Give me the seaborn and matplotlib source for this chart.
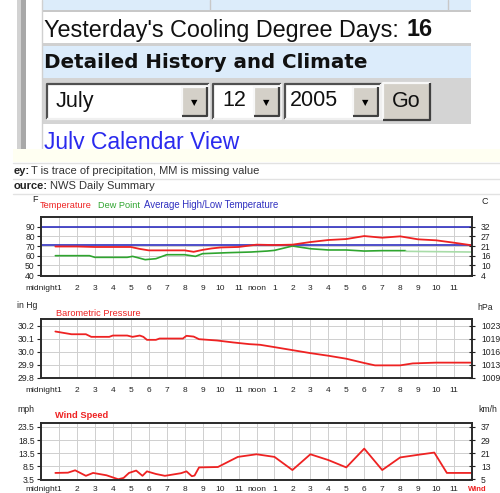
import matplotlib.pyplot as plt
from matplotlib.patches import Rectangle
import seaborn as sns

hour_ticks = list(range(24))
hour_labels = ['midnight'] + [str(h) for h in range(1, 12)] + ['noon'] + [str(h) for h in range(1, 12)]

# temperature chart (F)
temp_hours = [0.8, 2, 3, 4, 5, 5.5, 6, 7, 8, 8.5, 9, 9.5, 10, 11, 12, 13, 14,
              15, 16, 17, 18, 19, 20, 21, 22, 23, 24]
temp_f = [69.5, 69.5, 69, 69, 69, 67, 65.5, 65.5, 65.5, 64, 66, 67.5, 68.5, 69, 71.4, 71, 71.4,
          74.1, 76.2, 77.2, 80.3, 78.6, 80, 76.9, 75.9, 73.4, 70.7]
dew_hours = [0.8, 2.7, 3, 4.8, 5.1, 5.4, 5.8, 6.4, 7, 8, 8.6, 9, 10.4, 11.7,
             12.6, 13, 14, 15, 16, 17, 18, 19, 20, 20.3]
dew_f = [60, 60, 58.3, 58.3, 59.3, 57.9, 55.9, 56.9, 61, 61, 59.3, 62.1, 63.1, 63.8,
         64.8, 65.5, 70, 67.2, 65.9, 65.9, 64.8, 65.2, 65.2, 65.2]
dew_tail_hours = [20.3, 24]
dew_tail_f = [64.5, 63.8]
normal_hours = [0, 24]
normal_high_f = [90, 90]
normal_low_f = [70.7, 70.7]
temp_ticks = [40, 50, 60, 70, 80, 90]
temp_labels = ['40', '50', '60', '70', '80', '90']
temp_c_labels = ['4', '10', '16', '21', '27', '32']

# barometric pressure (in Hg)
pres_hours = [0.8, 1.7, 2.5, 2.8, 3.8, 4.0, 4.8, 5.1, 5.5, 5.7, 5.9, 6.4, 6.6, 7.9, 8.1, 8.5,
              8.8, 9.8, 10.7, 11.6, 12.2, 13, 14, 15, 16, 17, 18, 18.6, 20, 20.7, 22, 24]
pres_inhg = [30.157, 30.136, 30.136, 30.116, 30.116, 30.126, 30.126, 30.116, 30.126, 30.116,
             30.093, 30.093, 30.103, 30.103, 30.124, 30.118, 30.098, 30.088, 30.073, 30.06,
             30.055, 30.037, 30.014, 29.991, 29.971, 29.948, 29.915, 29.897, 29.897, 29.912,
             29.918, 29.918]
pres_ticks = [29.8, 29.9, 30.0, 30.1, 30.2]
pres_labels = ['29.8', '29.9', '30.0', '30.1', '30.2']
pres_hpa_labels = ['1009', '1013', '1016', '1019', '1023']

# wind speed (mph)
wind_hours = [0.8, 1.5, 1.9, 2.5, 2.9, 3.65, 4.3, 4.6, 4.9, 5.3, 5.65, 5.9, 6.4, 6.9, 7.8,
              8.1, 8.4, 8.55, 8.8, 9.85, 10.96, 12, 13, 14, 15, 16, 17, 18, 19, 20, 21,
              21.9, 22.6, 24]
wind_mph = [6.0, 6.1, 7.0, 4.9, 6.0, 5.1, 3.6, 4.1, 6.0, 6.9, 4.9, 6.6, 5.6, 4.9, 5.9,
            6.6, 4.75, 5.0, 8.1, 8.25, 12.1, 13.1, 12.1, 7.1, 13.1, 10.9, 8.1, 15.25, 7.1,
            11.9, 12.9, 13.75, 6.0, 6.0]
wind_ticks = [3.5, 8.5, 13.5, 18.5, 23.5]
wind_labels = ['3.5', '8.5', '13.5', '18.5', '23.5']
wind_kmh_labels = ['5', '13', '21', '29', '37']

W, H = 500, 493
RED = '#ee2222'
GREEN = '#2fa52f'
BLUE = '#3030c0'

sns.set_style('white')
plt.rcParams['font.family'] = ['Liberation Sans', 'DejaVu Sans']

fig = plt.figure(figsize=(W / 100, H / 100), dpi=100)
fig.patch.set_facecolor('white')

# pixel-space background layer for the page around the charts
bg = fig.add_axes([0, 0, 1, 1])
bg.set_xlim(0, W)
bg.set_ylim(H, 0)
bg.axis('off')


def rect(x0, y0, x1, y1, color, z=1):
    bg.add_patch(Rectangle((x0, y0), x1 - x0, y1 - y0, facecolor=color,
                           edgecolor='none', linewidth=0, zorder=z))


def bevel(x0, y0, x1, y1, face, sunken=True):
    rect(x0, y0, x1, y1, face, z=2)
    dark, light = ('#505050', '#f0f0f0') if sunken else ('#f8f8f8', '#404040')
    bg.plot([x0, x0, x1], [y1, y0, y0], color=dark, lw=1.6, zorder=3, solid_capstyle='butt')
    bg.plot([x0, x1, x1], [y1, y1, y0], color=light, lw=1.6, zorder=3, solid_capstyle='butt')


def drop_button(x0, y0, x1, y1):
    bevel(x0, y0, x1, y1, '#d4d0c8', sunken=False)
    bg.text((x0 + x1) / 2, (y0 + y1) / 2 + 1, '\u25bc', fontsize=6, ha='center', va='center',
            color='black', zorder=4, family=['DejaVu Sans'])


# left gray bar
rect(16.5, 0, 20.5, 152, '#d2d2d2')
rect(20.5, 0, 25.5, 152, '#a8a8a8')

# page table
rect(42, 0, 471, 10, '#dcecfa')
bg.plot([210, 210], [0, 10], color='#c8c8c8', lw=1, zorder=2)
bg.plot([448, 448], [0, 10], color='#c8c8c8', lw=1, zorder=2)
rect(42, 10, 471, 12, '#c8c8c8')
rect(42, 43, 471, 45.5, '#d0d0d0')
rect(42, 45.5, 471, 78, '#dcecfb')
rect(42, 78, 471, 124, '#d4d4d4')
bg.plot([42, 42], [0, 152], color='#d0d0d0', lw=1, zorder=2)

cdd = bg.text(44, 30, "Yesterday's Cooling Degree Days: ", fontsize=16.8, va='center',
              color='#111111', zorder=3)
fig.canvas.draw()
ext = cdd.get_window_extent()
x_end = bg.transData.inverted().transform((ext.x1, ext.y0))[0]
bg.text(x_end + 1, 30, '16', fontsize=16.8, va='center', fontweight='bold', color='#111111', zorder=3)
bg.text(44, 62, 'Detailed History and Climate', fontsize=14.3, fontweight='bold', va='center',
        color='#111111', zorder=3, family=['DejaVu Sans'])

# month / day / year selectors and Go button
bevel(46.5, 83.5, 209, 118.5, 'white')
drop_button(182, 87, 206.5, 115.5)
bg.text(56, 101, 'July', fontsize=15.5, va='center', color='#111111', zorder=4)
bevel(213, 83.5, 281, 118.5, 'white')
drop_button(254, 87, 278.5, 115.5)
bg.text(222, 101, '12', fontsize=15.5, va='center', color='#111111', zorder=4)
bevel(285, 83.5, 380.5, 118.5, 'white')
drop_button(353, 87, 378, 115.5)
bg.text(290, 101, '2005', fontsize=15.5, va='center', color='#111111', zorder=4)
bevel(383, 83, 430, 120, '#d4d0c8', sunken=False)
bg.text(406.5, 101.5, 'Go', fontsize=15.5, ha='center', va='center', color='#111111', zorder=4)

bg.text(44, 142, 'July Calendar View', fontsize=16.5, va='center', color='#2a2aee', zorder=3)

# cream strip and the notes rows under the page table
rect(13, 149, W, 162, '#fffff2', z=5)
for yy in (162.5, 178.5, 193.5):
    bg.plot([13, W], [yy, yy], color='#e2e2e2', lw=1, zorder=5)
bg.text(14, 170.5, 'ey:', fontsize=8, fontweight='bold', va='center', color='#222222', zorder=6)
bg.text(31, 170.5, 'T is trace of precipitation, MM is missing value', fontsize=8, va='center',
        color='#333333', zorder=6)
bg.text(14, 186, 'ource:', fontsize=8, fontweight='bold', va='center', color='#222222', zorder=6)
bg.text(49.5, 186, 'NWS Daily Summary', fontsize=8, va='center', color='#333333', zorder=6)


def px_box(left, top, right, bottom):
    return [left / W, 1 - bottom / H, (right - left) / W, (bottom - top) / H]


def style_chart(ax, ylim, yticks, ylabels, right_labels, xpad=3):
    ax.set_facecolor('white')
    ax.set_xlim(0, 24)
    ax.set_ylim(*ylim)
    ax.set_xticks(hour_ticks)
    ax.set_xticklabels(hour_labels)
    ax.set_yticks(yticks)
    ax.set_yticklabels(ylabels)
    ax.set_xlabel('')
    ax.set_ylabel('')
    ax.grid(True, color='#cfcfcf', lw=0.7)
    ax.set_axisbelow(True)
    for s in ax.spines.values():
        s.set_visible(True)
        s.set_color('#2a2a2a')
        s.set_linewidth(1.4)
    ax.tick_params(axis='x', bottom=False, labelsize=6, pad=xpad, colors='#222222')
    ax.tick_params(axis='y', left=True, length=3, width=0.8, labelsize=6.2, pad=1.5, colors='#222222')
    tw = ax.twinx()
    tw.set_ylim(*ylim)
    tw.set_yticks(yticks)
    tw.set_yticklabels(right_labels)
    tw.grid(False)
    for s in tw.spines.values():
        s.set_visible(False)
    tw.tick_params(axis='y', right=True, direction='inout', length=5, width=0.8,
                   labelsize=6.2, pad=4, colors='#222222')


# chart 1: temperature / dew point / normals
ax1 = fig.add_axes(px_box(41, 217, 472, 276))
sns.lineplot(x=normal_hours, y=normal_high_f, ax=ax1, color=BLUE, linewidth=1.2)
sns.lineplot(x=normal_hours, y=normal_low_f, ax=ax1, color=BLUE, linewidth=1.2)
sns.lineplot(x=dew_hours, y=dew_f, ax=ax1, color=GREEN, linewidth=1.2)
sns.lineplot(x=dew_tail_hours, y=dew_tail_f, ax=ax1, color='#a8dca8', linewidth=1.2)
sns.lineplot(x=temp_hours, y=temp_f, ax=ax1, color=RED, linewidth=1.3)
style_chart(ax1, (39, 100), temp_ticks, temp_labels, temp_c_labels)

bg.text(32, 199, 'F', fontsize=6.5, va='center', color='#222222', zorder=6)
bg.text(481, 202, 'C', fontsize=6.5, va='center', color='#222222', zorder=6)
bg.text(40, 205, 'Temperature', fontsize=6.6, va='center', color=RED, zorder=6)
bg.text(98, 205, 'Dew Point', fontsize=6.6, va='center', color=GREEN, zorder=6)
bg.text(144, 205, 'Average High/Low Temperature', fontsize=6.9, va='center', color=BLUE, zorder=6)

# chart 2: barometric pressure
ax2 = fig.add_axes(px_box(41, 319, 472, 378))
sns.lineplot(x=pres_hours, y=pres_inhg, ax=ax2, color=RED, linewidth=1.3)
style_chart(ax2, (29.8, 30.253), pres_ticks, pres_labels, pres_hpa_labels)
bg.text(17, 306, 'in Hg', fontsize=6.2, va='center', color='#222222', zorder=6)
bg.text(477, 307, 'hPa', fontsize=6.2, va='center', color='#222222', zorder=6)
bg.text(56, 313, 'Barometric Pressure', fontsize=6.7, va='center', color=RED, zorder=6)

# chart 3: wind speed
ax3 = fig.add_axes(px_box(41, 423, 472, 479.5))
sns.lineplot(x=wind_hours, y=wind_mph, ax=ax3, color=RED, linewidth=1.3)
style_chart(ax3, (3.5, 25), wind_ticks, wind_labels, wind_kmh_labels, xpad=1.5)
bg.text(17, 410, 'mph', fontsize=6.2, va='center', color='#222222', zorder=6)
bg.text(478, 410, 'km/h', fontsize=6.2, va='center', color='#222222', zorder=6)
bg.text(55, 416, 'Wind Speed', fontsize=6.7, fontweight='bold', va='center', color=RED, zorder=6)
bg.text(468, 489.5, 'Wind', fontsize=5.5, fontweight='bold', va='center', color=RED, zorder=6)

fig.savefig('out.png', dpi=100)
